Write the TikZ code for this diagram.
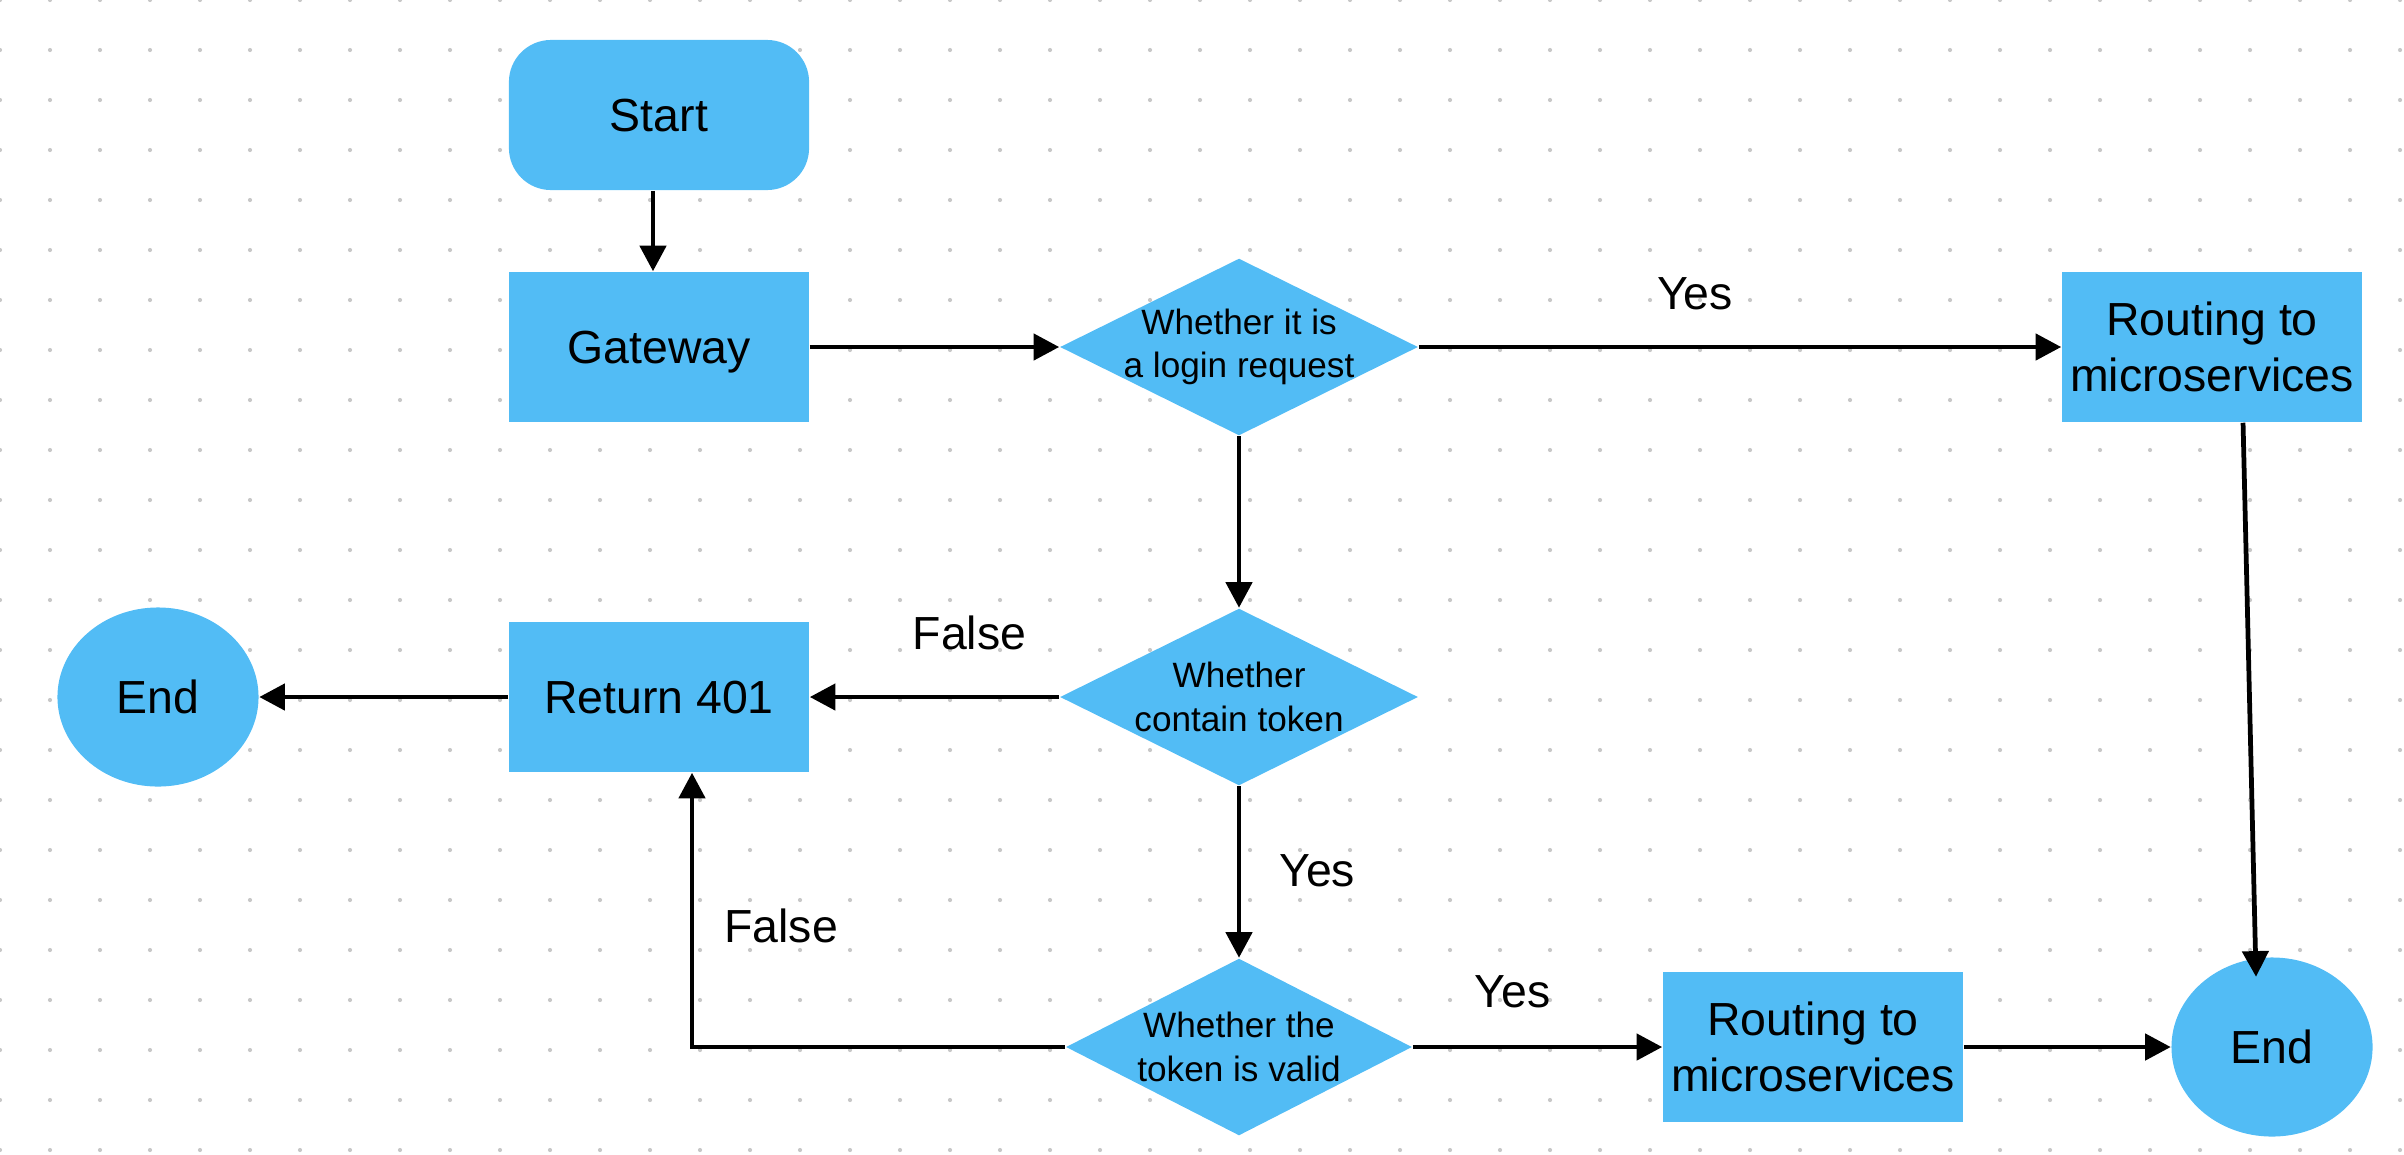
\documentclass[tikz,border=0pt]{standalone}
\usepackage{fontspec}
\setmainfont{Liberation Sans}
\usetikzlibrary{shapes.geometric,arrows.meta,calc}
\definecolor{boxblue}{RGB}{82,188,245}
\definecolor{dotgray}{RGB}{200,200,200}
\tikzset{
  box/.style={rectangle,fill=boxblue,minimum width=3cm,minimum height=1.5cm,inner sep=0pt,align=center,font=\fontsize{13.2}{15.8}\selectfont},
  startbox/.style={box,rounded corners=0.42cm,text depth=0pt},
  endnode/.style={ellipse,fill=boxblue,minimum width=2.01cm,minimum height=1.79cm,inner sep=0pt,text depth=0pt,font=\fontsize{13.2}{15.8}\selectfont},
  decision/.style={diamond,fill=boxblue,minimum width=3.58cm,minimum height=1.77cm,inner sep=0pt},
  dectext/.style={align=center,inner sep=0pt,font=\fontsize{10}{12.4}\selectfont},
  flow/.style={-{Triangle[length=7.3pt,width=7.4pt]},line width=1.35pt},
  lbl/.style={inner sep=0pt,font=\fontsize{13.2}{15.8}\selectfont}
}
\begin{document}
\begin{tikzpicture}[x=0.01cm,y=-0.01cm]
\useasboundingbox (0,0) rectangle (2404,1154);
% dotted background
\foreach \i in {0,...,48}
\foreach \j in {0,...,23}
\fill[dotgray] (50*\i,50*\j) circle (0.021cm);

\node[startbox] (start) at (659,115) {Start};
\node[box,text depth=0pt] (gate) at (659,347) {Gateway};
\node[decision,label={[dectext]center:{Whether it is\\a login request}}] (login) at (1239,347) {};
\node[box] (route1) at (2212,347) {Routing to\\microservices};
\node[decision,label={[dectext]center:{Whether\\contain token}}] (token) at (1239,697) {};
\node[box,text depth=0pt] (ret) at (659,697) {Return 401};
\node[endnode] (endl) at (158,697) {End};
\node[decision,minimum width=3.46cm,label={[dectext]center:{Whether the\\token is valid}}] (valid) at (1239,1047) {};
\node[box] (route2) at (1813,1047) {Routing to\\microservices};
\node[endnode] (endr) at (2272,1047) {End};

\draw[flow] ([xshift=-0.06cm]start.south) -- ([xshift=-0.06cm]gate.north);
\draw[flow] (gate.east) -- (login.west);
\draw[flow] (login.east) -- node[lbl,pos=0.43,above=0.35cm] {Yes} (route1.west);
\draw[flow] ([xshift=0.31cm]route1.south) -- ($(endr.north)+(-16,20)$);
\draw[flow] (login.south) -- (token.north);
\draw[flow] (token.west) -- node[lbl,pos=0.36,above=0.45cm] {False} (ret.east);
\draw[flow] (ret.west) -- (endl.east);
\draw[flow] (token.south) -- node[lbl,pos=0.49,right=0.38cm] {Yes} (valid.north);
\draw[flow] (valid.west) -| node[lbl,pos=0.72,right=0.3cm] {False} ([xshift=0.33cm]ret.south);
\draw[flow] (valid.east) -- node[lbl,pos=0.4,above=0.37cm] {Yes} (route2.west);
\draw[flow] (route2.east) -- (endr.west);
\end{tikzpicture}
\end{document}
